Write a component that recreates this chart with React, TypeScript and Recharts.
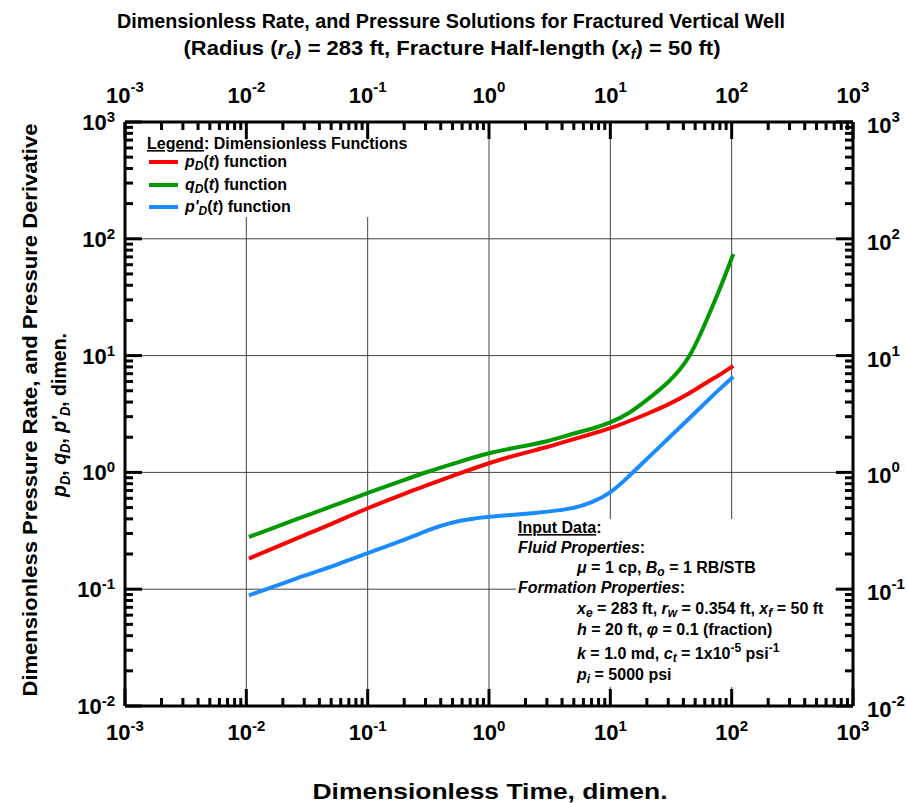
import React from "react";
import { LineChart, Line, XAxis, YAxis, ReferenceLine } from "recharts";

// Dimensionless solutions for a fractured vertical well (re = 283 ft, xf = 50 ft)
const TIME = [0.0105, 0.02, 0.03, 0.05, 0.1, 0.2, 0.3, 0.5, 1, 2, 3, 5, 7, 10, 14, 20, 30, 45, 62, 80, 103];
const P_D = [0.183, 0.242, 0.29, 0.36, 0.497, 0.656, 0.77, 0.93, 1.21, 1.48, 1.64, 1.93, 2.13, 2.38, 2.72, 3.16, 3.8, 4.75, 5.9, 6.85, 8.15];
const Q_D = [0.28, 0.359, 0.42, 0.51, 0.668, 0.862, 1.0, 1.18, 1.48, 1.69, 1.83, 2.16, 2.35, 2.66, 3.15, 4.17, 5.8, 9.3, 20, 37, 74];
const P_D_DERIV = [0.0887, 0.112, 0.131, 0.155, 0.205, 0.263, 0.315, 0.38, 0.42, 0.44, 0.46, 0.49, 0.55, 0.66, 0.91, 1.3, 1.95, 2.92, 4.03, 5.2, 6.6];

const X_DECADES = [-3, -2, -1, 0, 1, 2, 3];
const Y_DECADES = [-2, -1, 0, 1, 2, 3];

const FONT = "'Liberation Sans', Arial, sans-serif";
const RED = "#ff0000";
const GREEN = "#009a00";
const BLUE = "#1a8cff";

const toRows = (vals: number[]) => TIME.map((t, i) => ({ t, v: vals[i] }));
const pdRows = toRows(P_D);
const qdRows = toRows(Q_D);
const derivRows = toRows(P_D_DERIV);

// major + minor log ticks (1..9 per decade)
const logTicks = (decades: number[]) => {
  const out: number[] = [];
  for (let i = 0; i < decades.length - 1; i++) {
    for (let m = 1; m <= 9; m++) out.push(Number((m * Math.pow(10, decades[i])).toPrecision(6)));
  }
  out.push(Math.pow(10, decades[decades.length - 1]));
  return out;
};
const xTicks = logTicks(X_DECADES);
const yTicks = logTicks(Y_DECADES);

const expOf = (v: number) => Math.round(Math.log10(v));
const isMajor = (v: number) => Math.abs(Math.log10(v) - expOf(v)) < 1e-6;

type Anchor = "start" | "middle" | "end";

function Pow({ x, y, exp, anchor, rise = 11 }: { x: number; y: number; exp: number; anchor: Anchor; rise?: number }) {
  return (
    <text x={x} y={y} textAnchor={anchor} fontFamily={FONT} fontWeight="bold" fontSize={22} fill="#000">
      <tspan>10</tspan>
      <tspan dy={-rise} fontSize={15}>{String(exp)}</tspan>
    </text>
  );
}

const tickLen = (v: number) => (isMajor(v) ? 17 : 8);

function BottomTick(props: any) {
  const { x, y, payload } = props;
  const v = payload.value;
  return (
    <g>
      <line x1={x} y1={y} x2={x} y2={y - tickLen(v)} stroke="#000" strokeWidth={3} />
      {isMajor(v) && <Pow x={x} y={y + 34} exp={expOf(v)} anchor="middle" rise={9} />}
    </g>
  );
}

function TopTick(props: any) {
  const { x, y, payload } = props;
  const v = payload.value;
  return (
    <g>
      <line x1={x} y1={y} x2={x} y2={y + tickLen(v)} stroke="#000" strokeWidth={3} />
      {isMajor(v) && <Pow x={x} y={y - 19} exp={expOf(v)} anchor="middle" />}
    </g>
  );
}

function LeftTick(props: any) {
  const { x, y, payload } = props;
  const v = payload.value;
  return (
    <g>
      <line x1={x} y1={y} x2={x + tickLen(v)} y2={y} stroke="#000" strokeWidth={3} />
      {isMajor(v) && <Pow x={x - 10} y={y + 8} exp={expOf(v)} anchor="end" rise={8} />}
    </g>
  );
}

function RightTick(props: any) {
  const { x, y, payload } = props;
  const v = payload.value;
  return (
    <g>
      <line x1={x} y1={y} x2={x - tickLen(v)} y2={y} stroke="#000" strokeWidth={3} />
      {isMajor(v) && <Pow x={x + 14} y={y + 11} exp={expOf(v)} anchor="start" />}
    </g>
  );
}

const axisLine = { stroke: "#000", strokeWidth: 3 };

function Annotations() {
  const txt = { fontFamily: FONT, fontWeight: "bold" as const, fill: "#000" };
  return (
    <svg width={907} height={803} style={{ position: "absolute", left: 0, top: 0, pointerEvents: "none" }}>
      {/* title */}
      <text x={451} y={28} textAnchor="middle" fontSize={21} textLength={668} lengthAdjust="spacingAndGlyphs" {...txt}>
        Dimensionless Rate, and Pressure Solutions for Fractured Vertical Well
      </text>
      <text x={452} y={55} textAnchor="middle" fontSize={21} textLength={537} lengthAdjust="spacingAndGlyphs" {...txt}>
        <tspan>(Radius (</tspan>
        <tspan fontStyle="italic">r</tspan>
        <tspan dy={4} fontSize={14} fontStyle="italic">e</tspan>
        <tspan dy={-4}>) = 283 ft, Fracture Half-length (</tspan>
        <tspan fontStyle="italic">x</tspan>
        <tspan dy={4} fontSize={14} fontStyle="italic">f</tspan>
        <tspan dy={-4}>) = 50 ft)</tspan>
      </text>

      {/* y axis title */}
      <text transform="translate(37,410) rotate(-90)" textAnchor="middle" fontSize={21} textLength={573} lengthAdjust="spacingAndGlyphs" {...txt}>
        Dimensionless Pressure Rate, and Pressure Derivative
      </text>
      <text transform="translate(66,415) rotate(-90)" textAnchor="middle" fontSize={21} textLength={164} lengthAdjust="spacingAndGlyphs" {...txt}>
        <tspan fontStyle="italic">p</tspan>
        <tspan dy={4} fontSize={14} fontStyle="italic">D</tspan>
        <tspan dy={-4}>, </tspan>
        <tspan fontStyle="italic">q</tspan>
        <tspan dy={4} fontSize={14} fontStyle="italic">D</tspan>
        <tspan dy={-4}>, </tspan>
        <tspan fontStyle="italic">p'</tspan>
        <tspan dy={4} fontSize={14} fontStyle="italic">D</tspan>
        <tspan dy={-4}>, dimen.</tspan>
      </text>

      {/* x axis title */}
      <text x={490} y={799} textAnchor="middle" fontSize={22} textLength={355} lengthAdjust="spacingAndGlyphs" {...txt}>
        Dimensionless Time, dimen.
      </text>

      {/* legend */}
      <rect x={143} y={140} width={290} height={77} fill="#fff" />
      <text x={147} y={149} fontSize={16} {...txt}>
        <tspan textDecoration="underline">Legend</tspan>
        <tspan>: Dimensionless Functions</tspan>
      </text>
      {[
        { color: RED, y: 162, label: ["p", "D"] },
        { color: GREEN, y: 185, label: ["q", "D"] },
        { color: BLUE, y: 207, label: ["p'", "D"] },
      ].map((row) => (
        <g key={row.color}>
          <line x1={149} x2={178} y1={row.y} y2={row.y} stroke={row.color} strokeWidth={4} />
          <text x={185} y={row.y + 5} fontSize={16} {...txt}>
            <tspan fontStyle="italic">{row.label[0]}</tspan>
            <tspan dy={3} fontSize={12} fontStyle="italic">{row.label[1]}</tspan>
            <tspan dy={-3}>(</tspan>
            <tspan fontStyle="italic">t</tspan>
            <tspan>) function</tspan>
          </text>
        </g>
      ))}

      {/* input data */}
      <rect x={516} y={519} width={319} height={168} fill="#fff" />
      <text x={518} y={533} fontSize={16} {...txt}>
        <tspan textDecoration="underline">Input Data</tspan>
        <tspan>:</tspan>
      </text>
      <text x={518} y={553} fontSize={16} {...txt}>
        <tspan fontStyle="italic">Fluid Properties</tspan>
        <tspan>:</tspan>
      </text>
      <text x={577} y={573} fontSize={16} {...txt}>
        <tspan fontStyle="italic">μ</tspan>
        <tspan> = 1 cp, </tspan>
        <tspan fontStyle="italic">B</tspan>
        <tspan dy={3} fontSize={12} fontStyle="italic">o</tspan>
        <tspan dy={-3}> = 1 RB/STB</tspan>
      </text>
      <text x={518} y={593} fontSize={16} {...txt}>
        <tspan fontStyle="italic">Formation Properties</tspan>
        <tspan>:</tspan>
      </text>
      <text x={577} y={614} fontSize={16} {...txt}>
        <tspan fontStyle="italic">x</tspan>
        <tspan dy={3} fontSize={12} fontStyle="italic">e</tspan>
        <tspan dy={-3}> = 283 ft, </tspan>
        <tspan fontStyle="italic">r</tspan>
        <tspan dy={3} fontSize={12} fontStyle="italic">w</tspan>
        <tspan dy={-3}> = 0.354 ft, </tspan>
        <tspan fontStyle="italic">x</tspan>
        <tspan dy={3} fontSize={12} fontStyle="italic">f</tspan>
        <tspan dy={-3}> = 50 ft</tspan>
      </text>
      <text x={577} y={635} fontSize={16} {...txt}>
        <tspan fontStyle="italic">h</tspan>
        <tspan> = 20 ft, </tspan>
        <tspan fontStyle="italic">φ</tspan>
        <tspan> = 0.1 (fraction)</tspan>
      </text>
      <text x={577} y={659} fontSize={16} {...txt}>
        <tspan fontStyle="italic">k</tspan>
        <tspan> = 1.0 md, </tspan>
        <tspan fontStyle="italic">c</tspan>
        <tspan dy={3} fontSize={12} fontStyle="italic">t</tspan>
        <tspan dy={-3}> = 1x10</tspan>
        <tspan dy={-7} fontSize={12}>-5</tspan>
        <tspan dy={7}> psi</tspan>
        <tspan dy={-7} fontSize={12}>-1</tspan>
      </text>
      <text x={577} y={680} fontSize={16} {...txt}>
        <tspan fontStyle="italic">p</tspan>
        <tspan dy={3} fontSize={12} fontStyle="italic">i</tspan>
        <tspan dy={-3}> = 5000 psi</tspan>
      </text>
    </svg>
  );
}

export default function App() {
  return (
    <div style={{ position: "absolute", left: 0, top: 0, width: 907, height: 803, background: "#fff" }}>
      <LineChart width={907} height={803} margin={{ top: 121, right: 53, bottom: 96, left: 124 }}>
        <XAxis
          xAxisId="b"
          dataKey="t"
          type="number"
          scale="log"
          domain={[0.001, 1000]}
          allowDataOverflow
          ticks={xTicks}
          interval={0}
          height={1}
          tickSize={0}
          tickMargin={0}
          tickLine={false}
          axisLine={axisLine}
          tick={<BottomTick />}
        />
        <XAxis
          xAxisId="t"
          orientation="top"
          dataKey="t"
          type="number"
          scale="log"
          domain={[0.001, 1000]}
          allowDataOverflow
          ticks={xTicks}
          interval={0}
          height={1}
          tickSize={0}
          tickMargin={0}
          tickLine={false}
          axisLine={axisLine}
          tick={<TopTick />}
        />
        <YAxis
          yAxisId="l"
          type="number"
          scale="log"
          domain={[0.01, 1000]}
          allowDataOverflow
          ticks={yTicks}
          interval={0}
          width={1}
          tickSize={0}
          tickMargin={0}
          tickLine={false}
          axisLine={axisLine}
          tick={<LeftTick />}
        />
        <YAxis
          yAxisId="r"
          orientation="right"
          type="number"
          scale="log"
          domain={[0.01, 1000]}
          allowDataOverflow
          ticks={yTicks}
          interval={0}
          width={1}
          tickSize={0}
          tickMargin={0}
          tickLine={false}
          axisLine={axisLine}
          tick={<RightTick />}
        />
        {X_DECADES.slice(1, -1).map((d) => (
          <ReferenceLine key={"gx" + d} xAxisId="b" yAxisId="l" x={Math.pow(10, d)} stroke="#444" strokeWidth={1} />
        ))}
        {Y_DECADES.slice(1, -1).map((d) => (
          <ReferenceLine key={"gy" + d} xAxisId="b" yAxisId="l" y={Math.pow(10, d)} stroke="#444" strokeWidth={1} />
        ))}
        <Line xAxisId="b" yAxisId="l" data={pdRows} dataKey="v" type="basis" stroke={RED} strokeWidth={4} dot={false} isAnimationActive={false} />
        <Line xAxisId="b" yAxisId="l" data={qdRows} dataKey="v" type="basis" stroke={GREEN} strokeWidth={4} dot={false} isAnimationActive={false} />
        <Line xAxisId="b" yAxisId="l" data={derivRows} dataKey="v" type="basis" stroke={BLUE} strokeWidth={4} dot={false} isAnimationActive={false} />
      </LineChart>
      <Annotations />
    </div>
  );
}
